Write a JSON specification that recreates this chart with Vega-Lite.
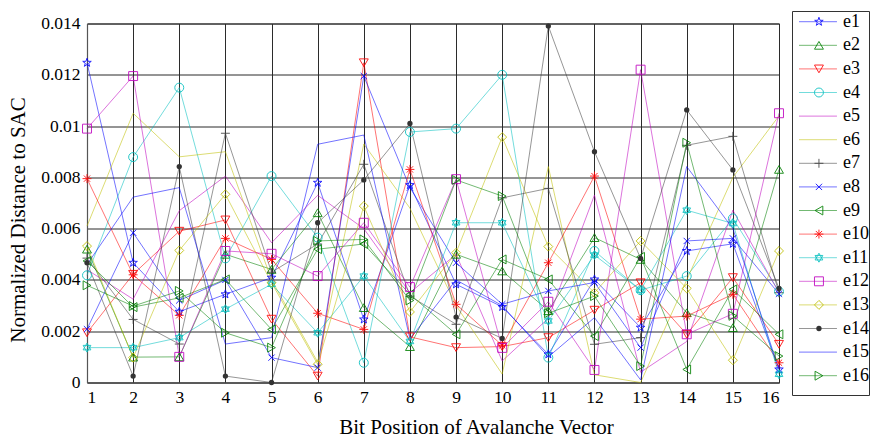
{
"$schema":"https://vega.github.io/schema/vega-lite/v6.json",
"autosize":"pad",
"padding":{"left":6,"top":10,"right":1,"bottom":0},
"background":"white",
"bounds":"flush",
"center":true,
"spacing":13,
"config":{"font":"Liberation Serif","view":{"stroke":"#333","strokeWidth":1},
"text":{"font":"Liberation Serif"},
"axis":{"labelFont":"Liberation Serif","titleFont":"Liberation Serif","labelColor":"#000","titleColor":"#000","titleFontWeight":"normal","gridColor":"#2b2b2b","gridOpacity":1,"gridWidth":1,"tickSize":0,"domainColor":"#555","domainWidth":1.2}},
"resolve":{"scale":{"x":"independent","y":"independent"}},
"datasets":{"d":[
{"s":"e1","x":1,"y":0.01247},{"s":"e1","x":2,"y":0.00467},{"s":"e1","x":3,"y":0.00276},{"s":"e1","x":4,"y":0.00344},{"s":"e1","x":5,"y":0.00409},{"s":"e1","x":6,"y":0.00779},{"s":"e1","x":7,"y":0.00246},{"s":"e1","x":8,"y":0.0077},{"s":"e1","x":9,"y":0.00383},{"s":"e1","x":10,"y":0.00295},{"s":"e1","x":11,"y":0.0011},{"s":"e1","x":12,"y":0.00402},{"s":"e1","x":13,"y":0.00214},{"s":"e1","x":14,"y":0.00513},{"s":"e1","x":15,"y":0.00541},{"s":"e1","x":16,"y":0.00051},
{"s":"e2","x":1,"y":0.0052},{"s":"e2","x":2,"y":0.00099},{"s":"e2","x":3,"y":0.001},{"s":"e2","x":4,"y":0.005},{"s":"e2","x":5,"y":0.00441},{"s":"e2","x":6,"y":0.00662},{"s":"e2","x":7,"y":0.00292},{"s":"e2","x":8,"y":0.0014},{"s":"e2","x":9,"y":0.005},{"s":"e2","x":10,"y":0.00435},{"s":"e2","x":11,"y":0.0028},{"s":"e2","x":12,"y":0.00565},{"s":"e2","x":13,"y":0.0048},{"s":"e2","x":14,"y":0.00272},{"s":"e2","x":15,"y":0.00214},{"s":"e2","x":16,"y":0.00831},
{"s":"e3","x":1,"y":0.00194},{"s":"e3","x":2,"y":0.00422},{"s":"e3","x":3,"y":0.0059},{"s":"e3","x":4,"y":0.00634},{"s":"e3","x":5,"y":0.00247},{"s":"e3","x":6,"y":0.00025},{"s":"e3","x":7,"y":0.01247},{"s":"e3","x":8,"y":0.00178},{"s":"e3","x":9,"y":0.00136},{"s":"e3","x":10,"y":0.0014},{"s":"e3","x":11,"y":0.00175},{"s":"e3","x":12,"y":0.00282},{"s":"e3","x":13,"y":0.00389},{"s":"e3","x":14,"y":0.00188},{"s":"e3","x":15,"y":0.00409},{"s":"e3","x":16,"y":0.00149},
{"s":"e4","x":1,"y":0.00418},{"s":"e4","x":2,"y":0.00879},{"s":"e4","x":3,"y":0.0115},{"s":"e4","x":4,"y":0.00484},{"s":"e4","x":5,"y":0.00805},{"s":"e4","x":6,"y":0.00565},{"s":"e4","x":7,"y":0.00077},{"s":"e4","x":8,"y":0.00977},{"s":"e4","x":9,"y":0.0099},{"s":"e4","x":10,"y":0.012},{"s":"e4","x":11,"y":0.00097},{"s":"e4","x":12,"y":0.00513},{"s":"e4","x":13,"y":0.0036},{"s":"e4","x":14,"y":0.00415},{"s":"e4","x":15,"y":0.0064},{"s":"e4","x":16,"y":0.00355},
{"s":"e5","x":1,"y":0.0044},{"s":"e5","x":2,"y":0.00325},{"s":"e5","x":3,"y":0.0067},{"s":"e5","x":4,"y":0.00805},{"s":"e5","x":5,"y":0.00545},{"s":"e5","x":6,"y":0.0073},{"s":"e5","x":7,"y":0.006},{"s":"e5","x":8,"y":0.0035},{"s":"e5","x":9,"y":0.005},{"s":"e5","x":10,"y":0.00084},{"s":"e5","x":11,"y":0.0025},{"s":"e5","x":12,"y":0.00731},{"s":"e5","x":13,"y":0.0004},{"s":"e5","x":14,"y":0.0016},{"s":"e5","x":15,"y":0.00672},{"s":"e5","x":16,"y":0.0035},
{"s":"e6","x":1,"y":0.0061},{"s":"e6","x":2,"y":0.0105},{"s":"e6","x":3,"y":0.0088},{"s":"e6","x":4,"y":0.009},{"s":"e6","x":5,"y":0.004},{"s":"e6","x":6,"y":0.0008},{"s":"e6","x":7,"y":0.0093},{"s":"e6","x":8,"y":0.0068},{"s":"e6","x":9,"y":0.003},{"s":"e6","x":10,"y":0.00033},{"s":"e6","x":11,"y":0.00842},{"s":"e6","x":12,"y":0.0003},{"s":"e6","x":13,"y":0},{"s":"e6","x":14,"y":0.004},{"s":"e6","x":15,"y":0.008},{"s":"e6","x":16,"y":0.0104},
{"s":"e7","x":1,"y":0.00485},{"s":"e7","x":2,"y":0.00246},{"s":"e7","x":3,"y":0.0015},{"s":"e7","x":4,"y":0.00972},{"s":"e7","x":5,"y":0.0043},{"s":"e7","x":6,"y":0.0054},{"s":"e7","x":7,"y":0.00851},{"s":"e7","x":8,"y":0.00337},{"s":"e7","x":9,"y":0.00227},{"s":"e7","x":10,"y":0.0072},{"s":"e7","x":11,"y":0.00757},{"s":"e7","x":12,"y":0.00149},{"s":"e7","x":13,"y":0.00175},{"s":"e7","x":14,"y":0.00925},{"s":"e7","x":15,"y":0.0096},{"s":"e7","x":16,"y":0.0035},
{"s":"e8","x":1,"y":0.00208},{"s":"e8","x":2,"y":0.00584},{"s":"e8","x":3,"y":0.0032},{"s":"e8","x":4,"y":0.004},{"s":"e8","x":5,"y":0.00097},{"s":"e8","x":6,"y":0.00058},{"s":"e8","x":7,"y":0.01195},{"s":"e8","x":8,"y":0.0076},{"s":"e8","x":9,"y":0.00467},{"s":"e8","x":10,"y":0.00305},{"s":"e8","x":11,"y":0.00357},{"s":"e8","x":12,"y":0.0039},{"s":"e8","x":13,"y":0.00136},{"s":"e8","x":14,"y":0.00552},{"s":"e8","x":15,"y":0.00562},{"s":"e8","x":16,"y":0.00346},
{"s":"e9","x":1,"y":0.00474},{"s":"e9","x":2,"y":0.00294},{"s":"e9","x":3,"y":0.0033},{"s":"e9","x":4,"y":0.00402},{"s":"e9","x":5,"y":0.00207},{"s":"e9","x":6,"y":0.0052},{"s":"e9","x":7,"y":0.0054},{"s":"e9","x":8,"y":0.00344},{"s":"e9","x":9,"y":0.00188},{"s":"e9","x":10,"y":0.0048},{"s":"e9","x":11,"y":0.00402},{"s":"e9","x":12,"y":0.00181},{"s":"e9","x":13,"y":0.0049},{"s":"e9","x":14,"y":0.00051},{"s":"e9","x":15,"y":0.00363},{"s":"e9","x":16,"y":0.00188},
{"s":"e10","x":1,"y":0.00795},{"s":"e10","x":2,"y":0.0042},{"s":"e10","x":3,"y":0.00262},{"s":"e10","x":4,"y":0.00562},{"s":"e10","x":5,"y":0.0048},{"s":"e10","x":6,"y":0.0027},{"s":"e10","x":7,"y":0.00207},{"s":"e10","x":8,"y":0.00831},{"s":"e10","x":9,"y":0.00305},{"s":"e10","x":10,"y":0.00145},{"s":"e10","x":11,"y":0.00467},{"s":"e10","x":12,"y":0.00805},{"s":"e10","x":13,"y":0.00247},{"s":"e10","x":14,"y":0.00259},{"s":"e10","x":15,"y":0.00344},{"s":"e10","x":16,"y":0.00077},
{"s":"e11","x":1,"y":0.00136},{"s":"e11","x":2,"y":0.00136},{"s":"e11","x":3,"y":0.00175},{"s":"e11","x":4,"y":0.00286},{"s":"e11","x":5,"y":0.00383},{"s":"e11","x":6,"y":0.00194},{"s":"e11","x":7,"y":0.00415},{"s":"e11","x":8,"y":0.0016},{"s":"e11","x":9,"y":0.00623},{"s":"e11","x":10,"y":0.00623},{"s":"e11","x":11,"y":0.0024},{"s":"e11","x":12,"y":0.00497},{"s":"e11","x":13,"y":0.0036},{"s":"e11","x":14,"y":0.00672},{"s":"e11","x":15,"y":0.0062},{"s":"e11","x":16,"y":0.00032},
{"s":"e12","x":1,"y":0.0099},{"s":"e12","x":2,"y":0.01195},{"s":"e12","x":3,"y":0.001},{"s":"e12","x":4,"y":0.00513},{"s":"e12","x":5,"y":0.00502},{"s":"e12","x":6,"y":0.00415},{"s":"e12","x":7,"y":0.00623},{"s":"e12","x":8,"y":0.00372},{"s":"e12","x":9,"y":0.00793},{"s":"e12","x":10,"y":0.00135},{"s":"e12","x":11,"y":0.00315},{"s":"e12","x":12,"y":0.00049},{"s":"e12","x":13,"y":0.0122},{"s":"e12","x":14,"y":0.00188},{"s":"e12","x":15,"y":0.00268},{"s":"e12","x":16,"y":0.0105},
{"s":"e13","x":1,"y":0.00532},{"s":"e13","x":2,"y":0.00097},{"s":"e13","x":3,"y":0.00515},{"s":"e13","x":4,"y":0.00734},{"s":"e13","x":5,"y":0.00389},{"s":"e13","x":6,"y":0.00071},{"s":"e13","x":7,"y":0.00688},{"s":"e13","x":8,"y":0.00275},{"s":"e13","x":9,"y":0.00506},{"s":"e13","x":10,"y":0.00957},{"s":"e13","x":11,"y":0.0053},{"s":"e13","x":12,"y":0.0035},{"s":"e13","x":13,"y":0.00552},{"s":"e13","x":14,"y":0.00367},{"s":"e13","x":15,"y":0.00087},{"s":"e13","x":16,"y":0.00513},
{"s":"e14","x":1,"y":0.00467},{"s":"e14","x":2,"y":0.00025},{"s":"e14","x":3,"y":0.00842},{"s":"e14","x":4,"y":0.00025},{"s":"e14","x":5,"y":0},{"s":"e14","x":6,"y":0.00623},{"s":"e14","x":7,"y":0.0079},{"s":"e14","x":8,"y":0.0101},{"s":"e14","x":9,"y":0.00255},{"s":"e14","x":10,"y":0.00172},{"s":"e14","x":11,"y":0.0139},{"s":"e14","x":12,"y":0.009},{"s":"e14","x":13,"y":0.00484},{"s":"e14","x":14,"y":0.01063},{"s":"e14","x":15,"y":0.00829},{"s":"e14","x":16,"y":0.00367},
{"s":"e15","x":1,"y":0.0046},{"s":"e15","x":2,"y":0.00723},{"s":"e15","x":3,"y":0.0076},{"s":"e15","x":4,"y":0.0015},{"s":"e15","x":5,"y":0.00175},{"s":"e15","x":6,"y":0.00929},{"s":"e15","x":7,"y":0.00965},{"s":"e15","x":8,"y":0.0017},{"s":"e15","x":9,"y":0.004},{"s":"e15","x":10,"y":0.003},{"s":"e15","x":11,"y":0.001},{"s":"e15","x":12,"y":0.00253},{"s":"e15","x":13,"y":0.0001},{"s":"e15","x":14,"y":0.00842},{"s":"e15","x":15,"y":0.006},{"s":"e15","x":16,"y":0.0005},
{"s":"e16","x":1,"y":0.00379},{"s":"e16","x":2,"y":0.00298},{"s":"e16","x":3,"y":0.00357},{"s":"e16","x":4,"y":0.00194},{"s":"e16","x":5,"y":0.00136},{"s":"e16","x":6,"y":0.00552},{"s":"e16","x":7,"y":0.00558},{"s":"e16","x":8,"y":0.0032},{"s":"e16","x":9,"y":0.0079},{"s":"e16","x":10,"y":0.00727},{"s":"e16","x":11,"y":0.0027},{"s":"e16","x":12,"y":0.00337},{"s":"e16","x":13,"y":0.00064},{"s":"e16","x":14,"y":0.00935},{"s":"e16","x":15,"y":0.0026},{"s":"e16","x":16,"y":0.00103}
]},
"hconcat":[
{"width":692,"height":359,"data":{"name":"d"},
"layer":[
{"mark":{"type":"line","strokeWidth":1,"opacity":0.55},
"encoding":{
"x":{"field":"x","type":"quantitative","scale":{"domain":[1,16],"nice":false,"zero":false},
"axis":{"values":[1,2,3,4,5,6,7,8,9,10,11,12,13,14,15,16],"format":"d","grid":true,"labelFontSize":17.5,"labelPadding":6,"title":"Bit Position of Avalanche Vector","titleFontSize":21,"titleX":389,"titleY":51,"titleBaseline":"alphabetic","titleAlign":"center","titleAnchor":null}},
"y":{"field":"y","type":"quantitative","scale":{"domain":[0,0.014],"nice":false},
"axis":{"values":[0,0.002,0.004,0.006,0.008,0.01,0.012,0.014],"format":"~g","grid":true,"labelFontSize":17.5,"labelPadding":7,"title":"Normalized Distance to SAC","titleFontSize":21,"titleX":-69,"titleY":196,"titleAngle":-90,"titleBaseline":"middle","titleAlign":"center"}},
"stroke":{"field":"s","type":"nominal","scale":{"domain":["e1","e2","e3","e4","e5","e6","e7","e8","e9","e10","e11","e12","e13","e14","e15","e16"],"range":["#0000ff","#008000","#ff0000","#00bfbf","#bf00bf","#bfbf00","#404040","#0000ff","#008000","#ff0000","#00bfbf","#bf00bf","#bfbf00","#404040","#0000ff","#008000"]},"legend":null}}},
{"transform":[{"filter":"indexof(['e5','e6','e14','e15'], datum.s) < 0"}],
"mark":{"type":"point","filled":false,"size":80,"strokeWidth":1,"opacity":0.85},
"encoding":{
"x":{"field":"x","type":"quantitative"},
"y":{"field":"y","type":"quantitative"},
"stroke":{"field":"s","type":"nominal","legend":null},
"shape":{"field":"s","type":"nominal","legend":null,"scale":{"domain":["e1","e2","e3","e4","e5","e6","e7","e8","e9","e10","e11","e12","e13","e14","e15","e16"],"range":["M0,-1L0.235,-0.324L0.951,-0.309L0.38,0.124L0.588,0.809L0,0.4L-0.588,0.809L-0.38,0.124L-0.951,-0.309L-0.235,-0.324Z","triangle-up","triangle-down","circle","circle","circle","M-1,0H1M0,-1V1","M-0.7,-0.7L0.7,0.7M-0.7,0.7L0.7,-0.7","triangle-left","M-1,0H1M0,-1V1M-0.7,-0.7L0.7,0.7M-0.7,0.7L0.7,-0.7","M0,-1L0.866,0.5L-0.866,0.5ZM0,1L-0.866,-0.5L0.866,-0.5Z","square","diamond","circle","circle","triangle-right"]}}}},
{"transform":[{"filter":"datum.s === 'e14'"}],
"mark":{"type":"point","filled":true,"shape":"circle","size":28,"color":"#333333","opacity":1},
"encoding":{"x":{"field":"x","type":"quantitative"},"y":{"field":"y","type":"quantitative"}}}
]},
{"width":77,"height":384,"data":{"name":"d"},
"transform":[{"filter":"datum.x === 1"}],
"layer":[
{"mark":{"type":"rule","strokeWidth":1,"opacity":0.55},
"encoding":{
"x":{"datum":0.091,"type":"quantitative","scale":{"domain":[0,1],"nice":false,"zero":false},"axis":null},
"x2":{"datum":0.584},
"y":{"field":"s","type":"nominal","scale":{"type":"point","domain":["e1","e2","e3","e4","e5","e6","e7","e8","e9","e10","e11","e12","e13","e14","e15","e16"],"padding":0.636,"align":0.357},"axis":null},
"stroke":{"field":"s","type":"nominal","legend":null}}},
{"transform":[{"filter":"indexof(['e5','e6','e14','e15'], datum.s) < 0"}],
"mark":{"type":"point","filled":false,"size":80,"strokeWidth":1,"opacity":0.85},
"encoding":{
"x":{"datum":0.35,"type":"quantitative"},
"y":{"field":"s","type":"nominal"},
"stroke":{"field":"s","type":"nominal","legend":null},
"shape":{"field":"s","type":"nominal","legend":null}}},
{"transform":[{"filter":"datum.s === 'e14'"}],
"mark":{"type":"point","filled":true,"shape":"circle","size":28,"color":"#333333","opacity":1},
"encoding":{"x":{"datum":0.35,"type":"quantitative"},"y":{"field":"s","type":"nominal"}}},
{"mark":{"type":"text","align":"left","baseline":"middle","fontSize":18,"font":"Liberation Serif","color":"#000"},
"encoding":{"x":{"datum":0.662,"type":"quantitative"},"y":{"field":"s","type":"nominal"},"text":{"field":"s"}}}
]}
]
}
